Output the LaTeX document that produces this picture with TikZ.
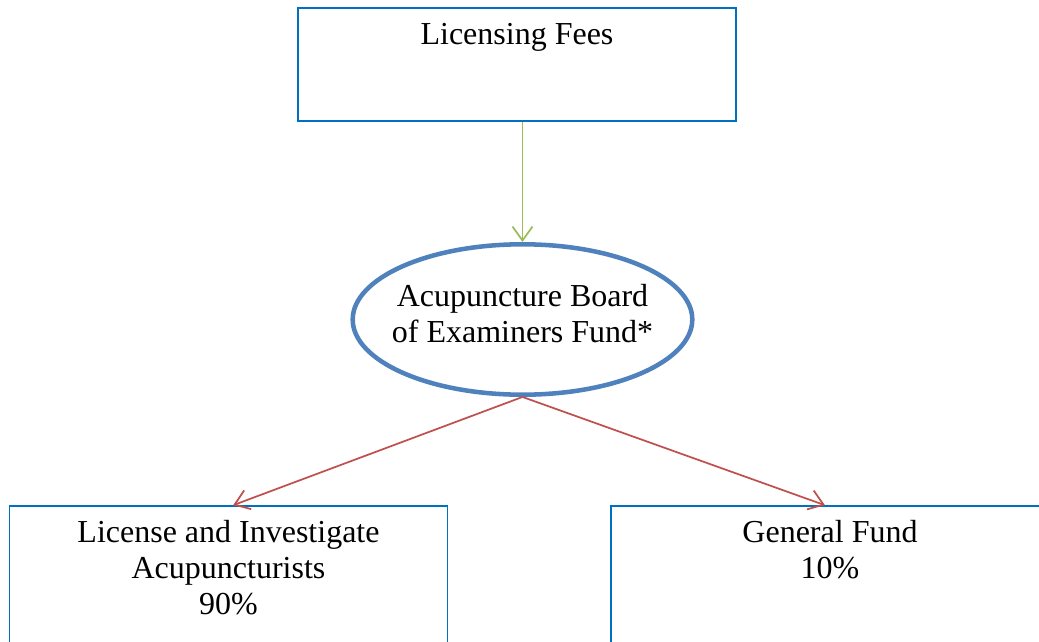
\documentclass[tikz,border=0pt]{standalone}
\usepackage{fontspec}
\setmainfont{Liberation Serif}
\usetikzlibrary{arrows.meta,positioning,shapes.geometric}
\definecolor{boxblue}{HTML}{0070C0}
\definecolor{ovalblue}{HTML}{4F81BD}
\definecolor{feegreen}{HTML}{9BBB59}
\definecolor{splitred}{HTML}{C0504D}

\begin{document}
\begin{tikzpicture}[x=0.75pt,y=-0.75pt,
  box/.style={draw=boxblue,line width=1.2pt,minimum width=328.5pt},
  txt/.style={font=\fontsize{24}{27}\selectfont,align=center,inner sep=0pt},
  flow/.style={line width=1.3pt,-{Straight Barb[length=10.5pt,width=15pt]}}]
  \useasboundingbox (0,0) rectangle (1039,642);
  \node[box,minimum height=84.75pt] (fees) at (517,64.5) {};
  \node[txt,below=12pt of fees.north] (feestxt) {Licensing Fees};
  \node[ellipse,draw=ovalblue,line width=3.4pt,minimum width=254.7pt,minimum height=112.8pt] (fund) at (522.5,319.5) {};
  \node[txt] (fundtxt) at ([yshift=4.8pt]fund.center) {Acupuncture Board\\of Examiners Fund*};
  \node[box,minimum height=120pt] (lic) at (228.5,586) {};
  \node[txt,below=11pt of lic.north] (lictxt) {License and Investigate\\Acupuncturists\\90\%};
  \node[box,minimum height=120pt] (gen) at (830,586) {};
  \node[txt,below=11pt of gen.north] (gentxt) {General Fund\\10\%};
  \draw[flow,feegreen] (fees.south -| fund.north) -- (fund.north);
  \draw[flow,splitred] (fund.south) -- ([xshift=3.5pt]lic.north);
  \draw[flow,splitred] (fund.south) -- ([xshift=-3.8pt]gen.north);
\end{tikzpicture}
\end{document}
